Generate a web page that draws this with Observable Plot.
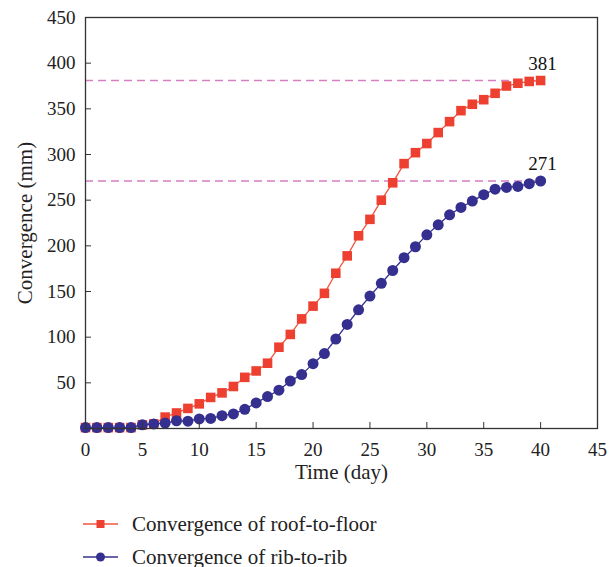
<!DOCTYPE html>
<html>
<head>
<meta charset="utf-8">
<script src="https://cdn.jsdelivr.net/npm/d3@7"></script>
<script src="https://cdn.jsdelivr.net/npm/@observablehq/plot@0.6"></script>
<style>
  html, body { margin: 0; padding: 0; background: #fff; }
  #wrap { position: relative; width: 615px; height: 567px; font-family: "Liberation Serif", serif; color: #222; }
  .leg { position: absolute; left: 83px; height: 26px; display: flex; align-items: center; font-size: 21px; white-space: nowrap; }
  .leg svg { margin-right: 14px; }
</style>
</head>
<body>
<div id="wrap"></div>
<script>
// ---- data ----
const days = [0,1,2,3,4,5,6,7,8,9,10,11,12,13,14,15,16,17,18,19,20,21,22,23,24,25,26,27,28,29,30,31,32,33,34,35,36,37,38,39,40];
const roofToFloor = [1,1,1,1,1,4,5,12.5,17,22,27,34,39,46,56,63,71.5,89,103,120,134,148,170,189,211,229,250,269,290,302,312,324,336,348,355,360,367,375,378,380,381];
const ribToRib = [1,1,1,1,1,4,5,6,8.5,8,10.5,11,14,16,21,28,35,42,52,59,71,82,98,114,130,145,159,173,187,199,212,223,234,242,249,256,262,264,265,268,271];
const seriesNames = ["Convergence of roof-to-floor", "Convergence of rib-to-rib"];
const finalValues = [381, 271];
const xTicks = [0,5,10,15,20,25,30,35,40,45];
const yTicks = [50,100,150,200,250,300,350,400,450];
const xLabel = "Time (day)";
const yLabel = "Convergence (mm)";

const RED = "#ee4030", RED_LINE = "#f0553f";
const BLUE = "#35308f";
const PINK = "#d57fc2";

const roof = days.map((d, i) => ({day: d, value: roofToFloor[i]}));
const rib = days.map((d, i) => ({day: d, value: ribToRib[i]}));
const lastDay = days[days.length - 1];
const refs = finalValues.map(v => ({x1: days[0], x2: lastDay, y: v, label: String(v)}));

const chart = Plot.plot({
  width: 615,
  height: 490,
  marginTop: 17,
  marginLeft: 85,
  marginRight: 18,
  marginBottom: 62,
  style: {fontFamily: "'Liberation Serif', serif", fontSize: "19px", color: "#222", background: "#fff"},
  x: {domain: [0, 45]},
  y: {domain: [0, 450]},
  marks: [
    Plot.ruleY(refs, {x1: "x1", x2: "x2", y: "y", stroke: PINK, strokeWidth: 1.4, strokeDasharray: "8,5"}),
    Plot.line(roof, {x: "day", y: "value", stroke: RED_LINE, strokeWidth: 1.3}),
    Plot.line(rib, {x: "day", y: "value", stroke: BLUE, strokeWidth: 1.3}),
    Plot.dot(roof, {x: "day", y: "value", symbol: "square", r: 5.4, fill: RED, stroke: null}),
    Plot.dot(rib, {x: "day", y: "value", symbol: "circle", r: 5.5, fill: BLUE, stroke: null}),
    Plot.text(refs, {x: "x2", y: "y", text: "label", dx: 2, dy: -17, fontSize: 19, fill: "#111"}),
    Plot.frame({stroke: "#333", strokeWidth: 1.3}),
    Plot.axisX({ticks: xTicks, tickSize: -6, tickPadding: 20, label: null, stroke: "#333"}),
    Plot.axisY({ticks: yTicks, tickSize: -6, tickPadding: 16, label: null, stroke: "#333"}),
    Plot.text([xLabel], {frameAnchor: "bottom", textAnchor: "middle", lineAnchor: "middle", dy: 44, fontSize: 21, fill: "#222"}),
    Plot.text([yLabel], {frameAnchor: "left", textAnchor: "middle", lineAnchor: "middle", dx: -60, rotate: -90, fontSize: 21, fill: "#222"})
  ]
});

const wrap = document.getElementById("wrap");
wrap.appendChild(chart);

// legend
const legendRows = [
  {name: seriesNames[0], color: RED, line: RED_LINE, symbol: "square", cy: 524},
  {name: seriesNames[1], color: BLUE, line: BLUE, symbol: "circle", cy: 557}
];
legendRows.forEach(r => {
  const div = document.createElement("div");
  div.className = "leg";
  div.style.top = (r.cy - 13) + "px";
  const marker = r.symbol === "square"
    ? `<rect x="13.5" y="2" width="8" height="8" fill="${r.color}"/>`
    : `<circle cx="17.5" cy="6" r="4.5" fill="${r.color}"/>`;
  div.innerHTML = `<svg width="35" height="12"><line x1="0" x2="35" y1="6" y2="6" stroke="${r.line}" stroke-width="1.3"/>${marker}</svg><span>${r.name}</span>`;
  wrap.appendChild(div);
});
</script>
</body>
</html>
